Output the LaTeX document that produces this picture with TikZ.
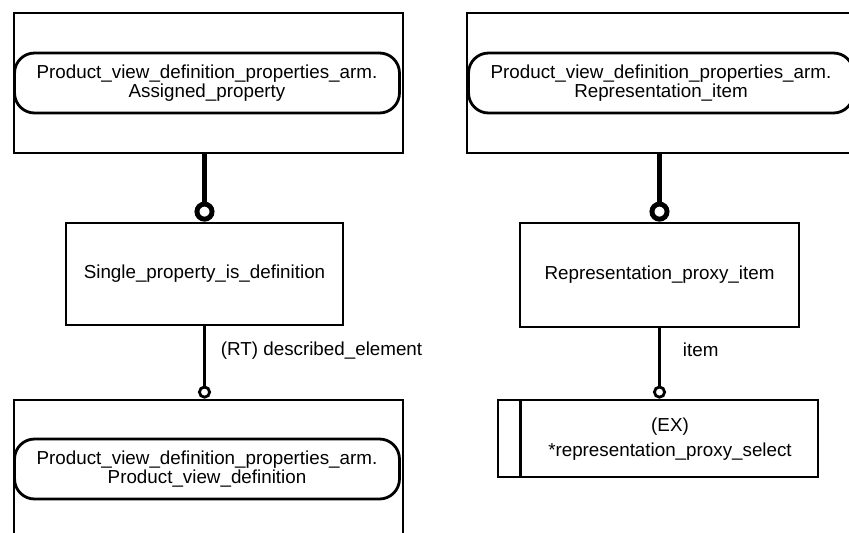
\documentclass[tikz,border=0pt]{standalone}
\usepackage{fontspec}
\setmainfont{Liberation Sans}
\usetikzlibrary{arrows.meta,positioning}

\begin{document}
\begin{tikzpicture}[x=0.02cm, y=-0.02cm, line width=1.6pt,
  every node/.style={font=\fontsize{10.7}{11}\selectfont, align=center, inner sep=0pt}]

\tikzstyle{entity}=[draw, minimum width=7.78cm, minimum height=2.8cm]
\tikzstyle{mapped}=[draw, rounded corners=0.4cm, minimum width=7.7cm, minimum height=1.2cm]
\tikzstyle{supertype}=[line width=2.8pt, -{Circle[open, length=0.4cm]}]
\tikzstyle{attr}=[line width=1.6pt, -{Circle[open, length=0.26cm]}]

\useasboundingbox (0,0) rectangle (849,532);

% left column
\node[entity] (apbox) at (208.5,83) {};
\node[mapped] (apmap) at (207,83) {Product\_view\_definition\_properties\_arm.\\Assigned\_property};
\node[draw, minimum width=5.54cm, minimum height=2.04cm] (spdef) at (204.5,274) {Single\_property\_is\_definition};
\node[entity] (pvbox) at (208.5,470) {};
\node[mapped] (pvmap) at (207,469) {Product\_view\_definition\_properties\_arm.\\Product\_view\_definition};

\draw[supertype] (spdef.north |- apbox.south) -- (spdef.north);
\draw[attr] (spdef.south) -- (spdef.south |- pvbox.north)
  node[pos=0.33, right=0.3cm] (rtlabel) {(RT) described\_element};

% right column
\node[entity] (ribox) at (661.5,83) {};
\node[mapped] (rimap) at (661,83) {Product\_view\_definition\_properties\_arm.\\Representation\_item};
\node[draw, minimum width=5.58cm, minimum height=2.08cm] (rpitem) at (659.5,275) {Representation\_proxy\_item};
\node[draw, minimum width=6.4cm, minimum height=1.54cm] (rpsel) at (658,438.5) {};
\draw ([xshift=0.48cm]rpsel.north west) -- ([xshift=0.48cm]rpsel.south west);
\node (rpseltext) at (670,439) {(EX)\\[0.12cm]*representation\_proxy\_select};

\draw[supertype] (rpitem.north |- ribox.south) -- (rpitem.north);
\draw[attr] (rpitem.south) -- (rpitem.south |- rpsel.north)
  node[pos=0.3, right=0.44cm] (itemlabel) {item};

\end{tikzpicture}
\end{document}
